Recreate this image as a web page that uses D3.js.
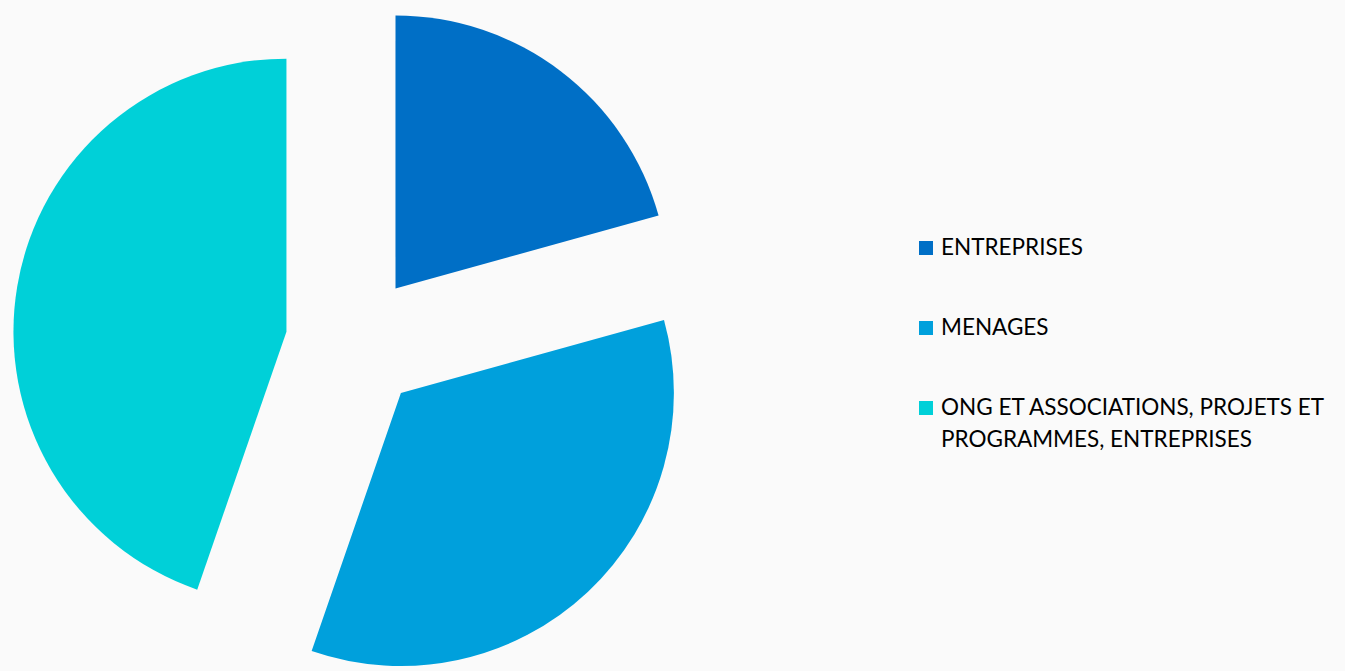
<!DOCTYPE html>
<html><head><meta charset="utf-8">
<script src="https://cdn.jsdelivr.net/npm/d3@7"></script>
<style>html,body{margin:0;padding:0;background:#fafafa;}</style>
</head><body>
<svg id="c" width="1345" height="671"></svg>
<script>
const categories = ["ENTREPRISES", "MENAGES", "ONG ET ASSOCIATIONS, PROJETS ET PROGRAMMES, ENTREPRISES"];
const values = [20.7, 34.6, 44.7];
const colors = ["#006FC6", "#00A0DC", "#00D0D8"];
const legendLines = [["ENTREPRISES"], ["MENAGES"], ["ONG ET ASSOCIATIONS, PROJETS ET", "PROGRAMMES, ENTREPRISES"]];

const svg = d3.select("#c");
const cx = 354, cy = 343, R = 273, explode = 68.5;
const pie = d3.pie().sort(null).value(d => d)(values);
const arc = d3.arc().innerRadius(0).outerRadius(R);
const g = svg.append("g").attr("transform", `translate(${cx},${cy})`);
g.selectAll("path").data(pie).join("path")
  .attr("d", arc)
  .attr("fill", (d, i) => colors[i])
  .attr("transform", d => {
    const a = (d.startAngle + d.endAngle) / 2;
    return `translate(${explode * Math.sin(a)},${-explode * Math.cos(a)})`;
  });

const lg = svg.append("g").attr("font-family", "Lato, 'Open Sans', sans-serif").attr("font-size", 22.5).attr("fill", "#000");
const baselines = [255, 335, 415];
categories.forEach((c, i) => {
  lg.append("rect").attr("x", 919).attr("y", baselines[i] - 14).attr("width", 14).attr("height", 14).attr("fill", colors[i]);
  const t = lg.append("text").attr("x", 941).attr("y", baselines[i]);
  legendLines[i].forEach((l, j) => {
    t.append("tspan").attr("x", 941).attr("dy", j === 0 ? 0 : 32).text(l);
  });
});
</script>
</body></html>
